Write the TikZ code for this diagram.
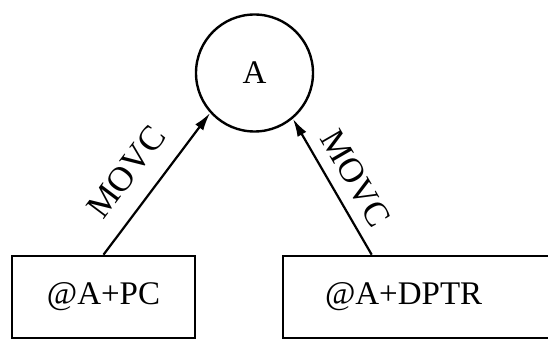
\documentclass[tikz,border=0pt]{standalone}
\usepackage{fontspec}
\setmainfont{Liberation Serif}
\usetikzlibrary{arrows.meta,calc}
\begin{document}
\begin{tikzpicture}[x=1pt,y=1pt,
    big/.style={font=\fontsize{33}{36}\selectfont},
    reg/.style={draw,line width=2.6pt,minimum height=82pt,inner sep=0pt,big},
    movc/.style={-{Latex[length=18pt,width=10pt]},line width=2.2pt},
    lbl/.style={sloped,font=\fontsize{35}{38}\selectfont}]
  \useasboundingbox (0,0) rectangle (548,340);
  % accumulator
  \node[draw,circle,line width=2.4pt,minimum size=117pt,inner sep=0pt,big] (acc) at (254.5,267) {A};
  % the two base registers
  \node[reg,minimum width=183pt] (pc) at (103.5,43) {@A+PC};
  \node[reg,minimum width=330pt,text width=246pt,inner xsep=42pt,align=left] (dptr) at (448,43) {@A+DPTR};
  % table lookups
  \draw[movc] (pc.north) -- node[pos=0.45,lbl,above=15pt] {MOVC} (acc.222.5);
  \draw[movc] ($(dptr.north west)+(90,0)$) -- node[pos=0.47,lbl,above=8pt] {MOVC} (acc.310.6);
\end{tikzpicture}
\end{document}
